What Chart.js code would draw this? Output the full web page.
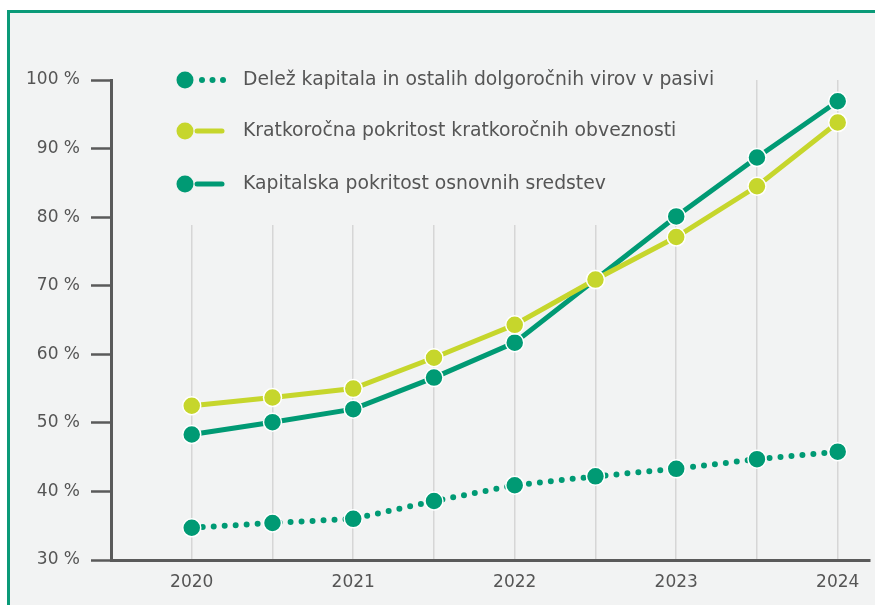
<!DOCTYPE html>
<html>
<head>
<meta charset="utf-8">
<script src="https://cdn.jsdelivr.net/npm/chart.js@4/dist/chart.umd.min.js"></script>
<style>
    html, body { margin: 0; padding: 0; background: #fff; }
    body { width: 875px; height: 605px; position: relative; overflow: hidden; font-family: "DejaVu Sans", sans-serif; }
    .panel {
        position: absolute; left: 7px; top: 10px; width: 880px; height: 610px;
        background: #f2f3f3; border-top: 3px solid #0a9a78; border-left: 3px solid #0a9a78;
    }
    .wrap { position: absolute; left: 0; top: 0; width: 875px; height: 605px; }
</style>
</head>
<body>
<div class="panel"></div>
<div class="wrap"><canvas id="chart"></canvas></div>
<script>
// Data (half-year steps, labels only on whole years)
const years = [2020, 2020.5, 2021, 2021.5, 2022, 2022.5, 2023, 2023.5, 2024]
const yearLabels = ['2020', '2021', '2022', '2023', '2024']
const yTicks = [30, 40, 50, 60, 70, 80, 90, 100]

const seriesNames = [
    'Delež kapitala in ostalih dolgoročnih virov v pasivi',
    'Kratkoročna pokritost kratkoročnih obveznosti',
    'Kapitalska pokritost osnovnih sredstev'
]
const delezKapitala = [34.7, 35.4, 36.0, 38.6, 40.9, 42.2, 43.3, 44.7, 45.8]
const kratkorocna = [52.5, 53.7, 55.0, 59.5, 64.3, 70.9, 77.1, 84.5, 93.8]
const kapitalska = [48.3, 50.1, 52.0, 56.6, 61.7, 70.9, 80.1, 88.7, 96.9]

const teal = '#009a74'
const lime = '#c6d62c'
const panelBg = '#f2f3f3'
const textGray = '#555555'
const fontFamily = '"DejaVu Sans", sans-serif'

const toPoints = values => values.map((v, i) => ({ x: years[i], y: v }))

// Legend sits inside the plot and hides the grid lines behind it
const legendPanel = {
    id: 'legendPanel',
    beforeDatasetsDraw(chart) {
        const ctx = chart.ctx
        const top = chart.chartArea.top
        ctx.save()
        ctx.fillStyle = panelBg
        ctx.fillRect(150, top - 2, 570, 225 - top + 2)

        const items = [
            { color: teal, dotted: true, y: 80 },
            { color: lime, dotted: false, y: 131 },
            { color: teal, dotted: false, y: 184 }
        ]
        items.forEach((item, i) => {
            ctx.fillStyle = item.color
            ctx.beginPath()
            ctx.arc(185, item.y, 8.5, 0, Math.PI * 2)
            ctx.fill()
            if (item.dotted) {
                [202, 212.5, 223].forEach(x => {
                    ctx.beginPath()
                    ctx.arc(x, item.y, 3, 0, Math.PI * 2)
                    ctx.fill()
                })
            } else {
                ctx.strokeStyle = item.color
                ctx.lineWidth = 5
                ctx.lineCap = 'round'
                ctx.beginPath()
                ctx.moveTo(197, item.y)
                ctx.lineTo(222, item.y)
                ctx.stroke()
            }
            ctx.fillStyle = textGray
            ctx.font = '18.8px ' + fontFamily
            ctx.textAlign = 'left'
            ctx.textBaseline = 'middle'
            ctx.fillText(seriesNames[i], 243, item.y)
        })
        ctx.restore()
    }
}

const pointStyle = color => ({
    borderColor: color,
    backgroundColor: color,
    pointBackgroundColor: color,
    pointBorderColor: '#ffffff',
    pointBorderWidth: 1.5,
    pointRadius: 9,
    pointHoverRadius: 9,
    borderWidth: 5,
    tension: 0
})

new Chart(document.getElementById('chart'), {
    type: 'line',
    data: {
        datasets: [
            { label: seriesNames[1], data: toPoints(kratkorocna), ...pointStyle(lime) },
            { label: seriesNames[2], data: toPoints(kapitalska), ...pointStyle(teal) },
            {
                label: seriesNames[0], data: toPoints(delezKapitala), ...pointStyle(teal),
                borderWidth: 6, borderDash: [0, 11], borderCapStyle: 'round'
            }
        ]
    },
    options: {
        responsive: true,
        maintainAspectRatio: false,
        animation: false,
        layout: { autoPadding: false, padding: { left: 0, top: 80, right: 5, bottom: 0 } },
        plugins: {
            legend: { display: false },
            tooltip: { enabled: false }
        },
        scales: {
            x: {
                type: 'linear',
                min: 2019.5,
                max: 2024.2,
                afterBuildTicks: scale => { scale.ticks = years.map(v => ({ value: v })) },
                afterFit: scale => {
                    scale.height = 45
                    scale.paddingLeft = 0
                    scale.paddingRight = 0
                },
                grid: { color: '#d6d6d6', lineWidth: 1.5, drawTicks: false },
                border: { color: '#5a5a5a', width: 3 },
                ticks: {
                    color: textGray,
                    font: { family: fontFamily, size: 17 },
                    padding: 12,
                    autoSkip: false,
                    maxRotation: 0,
                    callback: v => yearLabels.includes(String(v)) ? String(v) : ''
                }
            },
            y: {
                min: 30,
                max: 100,
                afterBuildTicks: scale => { scale.ticks = yTicks.map(v => ({ value: v })) },
                afterFit: scale => { scale.width = 111 },
                grid: {
                    drawOnChartArea: false,
                    drawTicks: true,
                    tickLength: 20,
                    tickColor: '#5a5a5a',
                    tickWidth: 2.5
                },
                border: { color: '#5a5a5a', width: 3 },
                ticks: {
                    color: textGray,
                    font: { family: fontFamily, size: 17 },
                    padding: 11,
                    callback: v => v + ' %'
                }
            }
        }
    },
    plugins: [legendPanel]
})
</script>
</body>
</html>
